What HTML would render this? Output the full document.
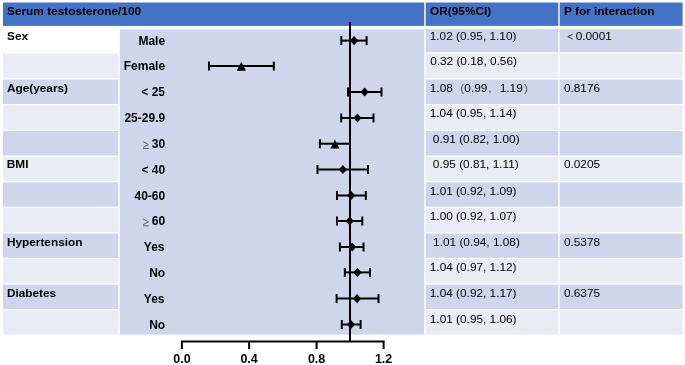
<!DOCTYPE html>
<html><head><meta charset="utf-8"><style>
html,body{margin:0;padding:0;background:#fff;}
svg{display:block;will-change:transform;font-family:"Liberation Sans", sans-serif;}
</style></head><body>
<svg width="685" height="365" viewBox="0 0 685 365">
<rect width="685" height="365" fill="#fff"/>
<rect x="3.00" y="2.50" width="421.20" height="23.40" fill="#4472C4"/>
<rect x="425.70" y="2.50" width="132.60" height="23.40" fill="#4472C4"/>
<rect x="559.70" y="2.50" width="122.90" height="23.40" fill="#4472C4"/>
<rect x="3.00" y="28.90" width="115.30" height="23.35" fill="#FFFFFF"/>
<rect x="425.70" y="28.90" width="132.60" height="23.35" fill="#CFD5EA"/>
<rect x="559.70" y="28.90" width="122.90" height="23.35" fill="#CFD5EA"/>
<rect x="3.00" y="53.55" width="115.30" height="24.70" fill="#E9EBF5"/>
<rect x="425.70" y="53.55" width="132.60" height="24.70" fill="#E9EBF5"/>
<rect x="559.70" y="53.55" width="122.90" height="24.70" fill="#E9EBF5"/>
<rect x="3.00" y="79.55" width="115.30" height="24.50" fill="#CFD5EA"/>
<rect x="425.70" y="79.55" width="132.60" height="24.50" fill="#CFD5EA"/>
<rect x="559.70" y="79.55" width="122.90" height="24.50" fill="#CFD5EA"/>
<rect x="3.00" y="105.35" width="115.30" height="24.35" fill="#E9EBF5"/>
<rect x="425.70" y="105.35" width="132.60" height="24.35" fill="#E9EBF5"/>
<rect x="559.70" y="105.35" width="122.90" height="24.35" fill="#E9EBF5"/>
<rect x="3.00" y="131.00" width="115.30" height="24.50" fill="#CFD5EA"/>
<rect x="425.70" y="131.00" width="132.60" height="24.50" fill="#CFD5EA"/>
<rect x="559.70" y="131.00" width="122.90" height="24.50" fill="#CFD5EA"/>
<rect x="3.00" y="156.80" width="115.30" height="24.28" fill="#E9EBF5"/>
<rect x="425.70" y="156.80" width="132.60" height="24.28" fill="#E9EBF5"/>
<rect x="559.70" y="156.80" width="122.90" height="24.28" fill="#E9EBF5"/>
<rect x="3.00" y="182.38" width="115.30" height="24.28" fill="#CFD5EA"/>
<rect x="425.70" y="182.38" width="132.60" height="24.28" fill="#CFD5EA"/>
<rect x="559.70" y="182.38" width="122.90" height="24.28" fill="#CFD5EA"/>
<rect x="3.00" y="207.96" width="115.30" height="24.28" fill="#E9EBF5"/>
<rect x="425.70" y="207.96" width="132.60" height="24.28" fill="#E9EBF5"/>
<rect x="559.70" y="207.96" width="122.90" height="24.28" fill="#E9EBF5"/>
<rect x="3.00" y="233.54" width="115.30" height="24.28" fill="#CFD5EA"/>
<rect x="425.70" y="233.54" width="132.60" height="24.28" fill="#CFD5EA"/>
<rect x="559.70" y="233.54" width="122.90" height="24.28" fill="#CFD5EA"/>
<rect x="3.00" y="259.12" width="115.30" height="24.28" fill="#E9EBF5"/>
<rect x="425.70" y="259.12" width="132.60" height="24.28" fill="#E9EBF5"/>
<rect x="559.70" y="259.12" width="122.90" height="24.28" fill="#E9EBF5"/>
<rect x="3.00" y="284.70" width="115.30" height="24.28" fill="#CFD5EA"/>
<rect x="425.70" y="284.70" width="132.60" height="24.28" fill="#CFD5EA"/>
<rect x="559.70" y="284.70" width="122.90" height="24.28" fill="#CFD5EA"/>
<rect x="3.00" y="310.28" width="115.30" height="24.30" fill="#E9EBF5"/>
<rect x="425.70" y="310.28" width="132.60" height="24.30" fill="#E9EBF5"/>
<rect x="559.70" y="310.28" width="122.90" height="24.30" fill="#E9EBF5"/>
<rect x="119.80" y="29.40" width="304.40" height="305.20" fill="#CFD5EA"/>
<text transform="translate(7.06,14.50) scale(1.15,1)" font-size="10.3" font-weight="bold" fill="#000" >Serum testosterone/100</text>
<text transform="translate(430.11,14.50) scale(1.15,1)" font-size="10.3" font-weight="bold" fill="#000" >OR(95%CI)</text>
<text transform="translate(564.01,14.50) scale(1.15,1)" font-size="10.3" font-weight="bold" fill="#000" >P for interaction</text>
<text transform="translate(7.06,40.10) scale(1.15,1)" font-size="10.3" font-weight="bold" fill="#000" >Sex</text>
<text transform="translate(6.91,92.00) scale(1.15,1)" font-size="10.3" font-weight="bold" fill="#000" >Age(years)</text>
<text transform="translate(6.81,168.20) scale(1.15,1)" font-size="10.3" font-weight="bold" fill="#000" >BMI</text>
<text transform="translate(6.91,245.70) scale(1.15,1)" font-size="10.3" font-weight="bold" fill="#000" >Hypertension</text>
<text transform="translate(6.91,296.80) scale(1.15,1)" font-size="10.3" font-weight="bold" fill="#000" >Diabetes</text>
<text transform="translate(429.70,40.40) scale(1.15,1)" font-size="10.3" font-weight="normal" fill="#000" >1.02 (0.95, 1.10)</text>
<text transform="translate(430.14,65.40) scale(1.15,1)" font-size="10.3" font-weight="normal" fill="#000" >0.32 (0.18, 0.56)</text>
<text transform="translate(429.80,91.60) scale(1.15,1)" font-size="10.3" font-weight="normal" fill="#000" >1.08</text>
<text transform="translate(460.27,91.60) scale(1.15,1)" font-size="10.3" font-weight="normal" fill="#555" >(</text>
<text transform="translate(464.34,91.60) scale(1.15,1)" font-size="10.3" font-weight="normal" fill="#000" >0.99</text>
<text transform="translate(488.14,91.60) scale(1.15,1)" font-size="10.3" font-weight="normal" fill="#555" >,</text>
<text transform="translate(499.70,91.60) scale(1.15,1)" font-size="10.3" font-weight="normal" fill="#000" >1.19</text>
<text transform="translate(523.93,91.60) scale(1.15,1)" font-size="10.3" font-weight="normal" fill="#555" >)</text>
<text transform="translate(429.70,117.30) scale(1.15,1)" font-size="10.3" font-weight="normal" fill="#000" >1.04 (0.95, 1.14)</text>
<text transform="translate(432.84,142.90) scale(1.15,1)" font-size="10.3" font-weight="normal" fill="#000" >0.91 (0.82, 1.00)</text>
<text transform="translate(432.84,168.10) scale(1.15,1)" font-size="10.3" font-weight="normal" fill="#000" >0.95 (0.81, 1.11)</text>
<text transform="translate(429.80,194.80) scale(1.15,1)" font-size="10.3" font-weight="normal" fill="#000" >1.01 (0.92, 1.09)</text>
<text transform="translate(429.80,219.80) scale(1.15,1)" font-size="10.3" font-weight="normal" fill="#000" >1.00 (0.92, 1.07)</text>
<text transform="translate(433.10,245.80) scale(1.15,1)" font-size="10.3" font-weight="normal" fill="#000" >1.01 (0.94, 1.08)</text>
<text transform="translate(429.80,270.80) scale(1.15,1)" font-size="10.3" font-weight="normal" fill="#000" >1.04 (0.97, 1.12)</text>
<text transform="translate(429.80,297.30) scale(1.15,1)" font-size="10.3" font-weight="normal" fill="#000" >1.04 (0.92, 1.17)</text>
<text transform="translate(429.80,322.50) scale(1.15,1)" font-size="10.3" font-weight="normal" fill="#000" >1.01 (0.95, 1.06)</text>
<polyline points="572.6,34.2 567.8,36.6 572.6,39.0" fill="none" stroke="#333" stroke-width="1.0"/>
<text transform="translate(575.64,40.20) scale(1.15,1)" font-size="10.3" font-weight="normal" fill="#000" >0.0001</text>
<text transform="translate(563.94,91.80) scale(1.15,1)" font-size="10.3" font-weight="normal" fill="#000" >0.8176</text>
<text transform="translate(563.94,168.10) scale(1.15,1)" font-size="10.3" font-weight="normal" fill="#000" >0.0205</text>
<text transform="translate(563.94,245.80) scale(1.15,1)" font-size="10.3" font-weight="normal" fill="#000" >0.5378</text>
<text transform="translate(563.94,297.30) scale(1.15,1)" font-size="10.3" font-weight="normal" fill="#000" >0.6375</text>
<text x="138.43" y="44.90" font-size="12" font-weight="bold" fill="#000">Male</text>
<text x="123.75" y="70.40" font-size="12" font-weight="bold" fill="#000">Female</text>
<text x="141.34" y="96.30" font-size="12" font-weight="bold" fill="#000">&lt; 25</text>
<text x="124.45" y="122.30" font-size="12" font-weight="bold" fill="#000">25-29.9</text>
<text x="151.84" y="148.00" font-size="12" font-weight="bold" fill="#000">30</text>
<polyline points="143.2,141.70 148.5,144.50 143.2,147.30" fill="none" stroke="#555" stroke-width="0.9"/>
<line x1="143.0" y1="148.50" x2="148.7" y2="148.50" stroke="#555" stroke-width="0.9"/>
<text x="141.50" y="173.80" font-size="12" font-weight="bold" fill="#000">&lt; 40</text>
<text x="134.50" y="199.80" font-size="12" font-weight="bold" fill="#000">40-60</text>
<text x="151.84" y="225.30" font-size="12" font-weight="bold" fill="#000">60</text>
<polyline points="143.2,219.00 148.5,221.80 143.2,224.60" fill="none" stroke="#555" stroke-width="0.9"/>
<line x1="143.0" y1="225.80" x2="148.7" y2="225.80" stroke="#555" stroke-width="0.9"/>
<text x="143.84" y="251.30" font-size="12" font-weight="bold" fill="#000">Yes</text>
<text x="149.17" y="276.70" font-size="12" font-weight="bold" fill="#000">No</text>
<text x="143.84" y="302.90" font-size="12" font-weight="bold" fill="#000">Yes</text>
<text x="149.17" y="328.80" font-size="12" font-weight="bold" fill="#000">No</text>
<line x1="341.30" y1="40.60" x2="366.60" y2="40.60" stroke="#000" stroke-width="2"/>
<line x1="341.30" y1="36.10" x2="341.30" y2="45.10" stroke="#000" stroke-width="2"/>
<line x1="366.60" y1="36.10" x2="366.60" y2="45.10" stroke="#000" stroke-width="2"/>
<polygon points="354.10,36.00 358.20,40.60 354.10,45.20 350.00,40.60" fill="#000"/>
<line x1="209.00" y1="66.10" x2="273.80" y2="66.10" stroke="#000" stroke-width="2"/>
<line x1="209.00" y1="61.60" x2="209.00" y2="70.60" stroke="#000" stroke-width="2"/>
<line x1="273.80" y1="61.60" x2="273.80" y2="70.60" stroke="#000" stroke-width="2"/>
<polygon points="241.30,61.80 245.85,70.80 236.75,70.80" fill="#000"/>
<line x1="348.00" y1="92.00" x2="381.50" y2="92.00" stroke="#000" stroke-width="2"/>
<line x1="348.00" y1="87.50" x2="348.00" y2="96.50" stroke="#000" stroke-width="2"/>
<line x1="381.50" y1="87.50" x2="381.50" y2="96.50" stroke="#000" stroke-width="2"/>
<polygon points="364.70,87.40 368.80,92.00 364.70,96.60 360.60,92.00" fill="#000"/>
<line x1="341.20" y1="118.00" x2="373.50" y2="118.00" stroke="#000" stroke-width="2"/>
<line x1="341.20" y1="113.50" x2="341.20" y2="122.50" stroke="#000" stroke-width="2"/>
<line x1="373.50" y1="113.50" x2="373.50" y2="122.50" stroke="#000" stroke-width="2"/>
<polygon points="357.40,113.40 361.50,118.00 357.40,122.60 353.30,118.00" fill="#000"/>
<line x1="319.90" y1="143.70" x2="350.00" y2="143.70" stroke="#000" stroke-width="2"/>
<line x1="319.90" y1="139.20" x2="319.90" y2="148.20" stroke="#000" stroke-width="2"/>
<line x1="350.00" y1="139.20" x2="350.00" y2="148.20" stroke="#000" stroke-width="2"/>
<polygon points="334.90,139.40 339.45,148.40 330.35,148.40" fill="#000"/>
<line x1="317.50" y1="169.50" x2="368.00" y2="169.50" stroke="#000" stroke-width="2"/>
<line x1="317.50" y1="165.00" x2="317.50" y2="174.00" stroke="#000" stroke-width="2"/>
<line x1="368.00" y1="165.00" x2="368.00" y2="174.00" stroke="#000" stroke-width="2"/>
<polygon points="342.85,164.90 346.95,169.50 342.85,174.10 338.75,169.50" fill="#000"/>
<line x1="337.00" y1="195.50" x2="365.80" y2="195.50" stroke="#000" stroke-width="2"/>
<line x1="337.00" y1="191.00" x2="337.00" y2="200.00" stroke="#000" stroke-width="2"/>
<line x1="365.80" y1="191.00" x2="365.80" y2="200.00" stroke="#000" stroke-width="2"/>
<polygon points="351.20,190.90 355.30,195.50 351.20,200.10 347.10,195.50" fill="#000"/>
<line x1="337.00" y1="221.00" x2="362.30" y2="221.00" stroke="#000" stroke-width="2"/>
<line x1="337.00" y1="216.50" x2="337.00" y2="225.50" stroke="#000" stroke-width="2"/>
<line x1="362.30" y1="216.50" x2="362.30" y2="225.50" stroke="#000" stroke-width="2"/>
<polygon points="349.70,216.40 353.80,221.00 349.70,225.60 345.60,221.00" fill="#000"/>
<line x1="339.90" y1="247.00" x2="363.50" y2="247.00" stroke="#000" stroke-width="2"/>
<line x1="339.90" y1="242.50" x2="339.90" y2="251.50" stroke="#000" stroke-width="2"/>
<line x1="363.50" y1="242.50" x2="363.50" y2="251.50" stroke="#000" stroke-width="2"/>
<polygon points="352.20,242.40 356.30,247.00 352.20,251.60 348.10,247.00" fill="#000"/>
<line x1="344.80" y1="272.40" x2="370.00" y2="272.40" stroke="#000" stroke-width="2"/>
<line x1="344.80" y1="267.90" x2="344.80" y2="276.90" stroke="#000" stroke-width="2"/>
<line x1="370.00" y1="267.90" x2="370.00" y2="276.90" stroke="#000" stroke-width="2"/>
<polygon points="357.40,267.80 361.50,272.40 357.40,277.00 353.30,272.40" fill="#000"/>
<line x1="336.60" y1="298.60" x2="378.50" y2="298.60" stroke="#000" stroke-width="2"/>
<line x1="336.60" y1="294.10" x2="336.60" y2="303.10" stroke="#000" stroke-width="2"/>
<line x1="378.50" y1="294.10" x2="378.50" y2="303.10" stroke="#000" stroke-width="2"/>
<polygon points="357.10,294.00 361.20,298.60 357.10,303.20 353.00,298.60" fill="#000"/>
<line x1="341.80" y1="324.50" x2="360.60" y2="324.50" stroke="#000" stroke-width="2"/>
<line x1="341.80" y1="320.00" x2="341.80" y2="329.00" stroke="#000" stroke-width="2"/>
<line x1="360.60" y1="320.00" x2="360.60" y2="329.00" stroke="#000" stroke-width="2"/>
<polygon points="351.00,319.90 355.10,324.50 351.00,329.10 346.90,324.50" fill="#000"/>
<line x1="350" y1="22" x2="350" y2="342" stroke="#000" stroke-width="2"/>
<line x1="180.90" y1="341.5" x2="384.60" y2="341.5" stroke="#000" stroke-width="2"/>
<line x1="181.90" y1="341.5" x2="181.90" y2="349" stroke="#000" stroke-width="2"/>
<text x="181.90" y="363.00" font-size="12.5" font-weight="bold" fill="#000" text-anchor="middle">0.0</text>
<line x1="249.10" y1="341.5" x2="249.10" y2="349" stroke="#000" stroke-width="2"/>
<text x="249.10" y="363.00" font-size="12.5" font-weight="bold" fill="#000" text-anchor="middle">0.4</text>
<line x1="316.60" y1="341.5" x2="316.60" y2="349" stroke="#000" stroke-width="2"/>
<text x="316.60" y="363.00" font-size="12.5" font-weight="bold" fill="#000" text-anchor="middle">0.8</text>
<line x1="383.60" y1="341.5" x2="383.60" y2="349" stroke="#000" stroke-width="2"/>
<text x="383.60" y="363.00" font-size="12.5" font-weight="bold" fill="#000" text-anchor="middle">1.2</text>
</svg>
</body></html>
